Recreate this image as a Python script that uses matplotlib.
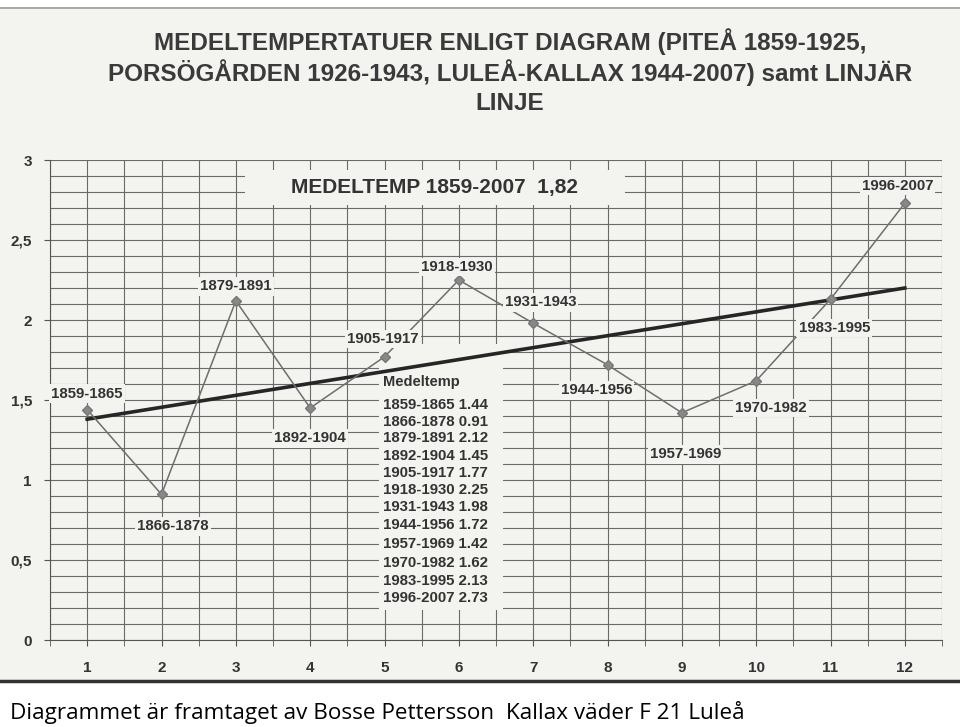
import numpy as np
import matplotlib.pyplot as plt
from matplotlib.ticker import MultipleLocator, FuncFormatter

plt.rcParams['font.family'] = ['Liberation Sans', 'DejaVu Sans']

# Medeltemperatur per period
periods = ['1859-1865', '1866-1878', '1879-1891', '1892-1904', '1905-1917', '1918-1930',
           '1931-1943', '1944-1956', '1957-1969', '1970-1982', '1983-1995', '1996-2007']
temps = [1.44, 0.91, 2.12, 1.45, 1.77, 2.25, 1.98, 1.72, 1.42, 1.62, 2.13, 2.73]
x = np.arange(1, 13)

# linjär trendlinje (ändpunkter avlästa)
trend_x = [1, 12]
trend_y = [1.38, 2.20]

# etikettplaceringar (x, y) för varje period
label_pos = [(1.0, 1.54), (2.15, 0.71), (3.0, 2.21), (4.0, 1.26), (4.98, 1.88), (5.97, 2.33),
             (7.1, 2.11), (7.85, 1.56), (9.05, 1.16), (10.2, 1.45), (11.05, 1.95), (11.9, 2.84)]

fig = plt.figure(figsize=(9.6, 7.27), dpi=100)
fig.patch.set_facecolor('white')
# inskannad sida
fig.add_artist(plt.Rectangle((0, 1 - 680 / 727), 1, (680 - 8) / 727, transform=fig.transFigure,
                             facecolor='#f3f4f0', edgecolor='none', zorder=0))
fig.add_artist(plt.Line2D([0, 1], [1 - 8 / 727] * 2, transform=fig.transFigure, color='#999999', lw=1.2))
fig.add_artist(plt.Line2D([0, 1], [1 - 681 / 727] * 2, transform=fig.transFigure, color='#333333', lw=2.5))

title_lines = ['MEDELTEMPERTATUER ENLIGT DIAGRAM (PITEÅ 1859-1925,',
               'PORSÖGÅRDEN 1926-1943, LULEÅ-KALLAX 1944-2007) samt LINJÄR',
               'LINJE']
for line, ty in zip(title_lines, [42, 73, 103]):
    fig.text(0.531, 1 - ty / 727, line, ha='center', va='center', fontsize=17.5,
             fontweight='bold', color='#3a3a3a')

ax = fig.add_axes([50 / 960, 1 - 640 / 727, 892 / 960, 480 / 727])
ax.set_facecolor('#f3f4f0')
ax.set_xlim(0.5, 12.5)
ax.set_ylim(0, 3)

ax.xaxis.set_major_locator(MultipleLocator(1))
ax.xaxis.set_minor_locator(MultipleLocator(0.5))
ax.yaxis.set_major_locator(MultipleLocator(0.5))
ax.yaxis.set_minor_locator(MultipleLocator(0.1))
ax.yaxis.set_major_formatter(FuncFormatter(lambda v, p: ('%g' % v).replace('.', ',')))
ax.grid(which='both', color='#6a6a6a', lw=0.8)
ax.set_axisbelow(True)
for s in ['top', 'right']:
    ax.spines[s].set_visible(False)
ax.spines['left'].set_color('#555555')
ax.spines['bottom'].set_color('#555555')
ax.tick_params(axis='both', which='both', color='#555555', length=4)
ax.tick_params(axis='x', which='major', pad=11, labelsize=11, labelcolor='#333333')
ax.tick_params(axis='y', which='major', pad=9, labelsize=11, labelcolor='#333333')
ax.tick_params(axis='y', which='minor', length=0)
for t in ax.get_xticklabels() + ax.get_yticklabels():
    t.set_fontweight('bold')

ax.plot(trend_x, trend_y, color='#262626', lw=2.6, zorder=3)
ax.plot(x, temps, color='#6e6e6e', lw=1.1, marker='D', ms=5, mfc='#888888', mec='#777777', zorder=4)

for name, (lx, ly) in zip(periods, label_pos):
    ax.text(lx, ly, name, ha='center', va='center', fontsize=10.8, fontweight='bold', color='#333333',
            bbox=dict(facecolor='#f3f4f0', edgecolor='none', pad=1.5), zorder=5)

# rubrikruta
ax.add_patch(plt.Rectangle((3.12, 2.72), 5.12, 0.22, facecolor='#f3f4f0', edgecolor='none', zorder=2))
ax.text(5.67, 2.825, 'MEDELTEMP 1859-2007  1,82', ha='center', va='center', fontsize=15,
        fontweight='bold', color='#333333', zorder=5)

# tabell med medeltemperaturer
ax.add_patch(plt.Rectangle((4.93, 0.19), 1.66, 1.66, facecolor='#f3f4f0', edgecolor='none', zorder=2))
ax.text(4.98, 1.61, 'Medeltemp', ha='left', va='center', fontsize=10.5, fontweight='bold',
        color='#333333', zorder=5)
row_y = [1.47, 1.365, 1.26, 1.15, 1.045, 0.935, 0.83, 0.72, 0.60, 0.48, 0.37, 0.26]
for name, v, ry in zip(periods, temps, row_y):
    ax.text(4.98, ry, f'{name} {v:.2f}', ha='left', va='center', fontsize=10.8, fontweight='bold',
            color='#333333', zorder=5)

fig.text(10 / 960, 1 - 712 / 727, 'Diagrammet är framtaget av Bosse Pettersson  Kallax väder F 21 Luleå',
         ha='left', va='center', fontsize=16.2, color='black', family=['Open Sans', 'DejaVu Sans'])

fig.savefig('out.png', dpi=100)
